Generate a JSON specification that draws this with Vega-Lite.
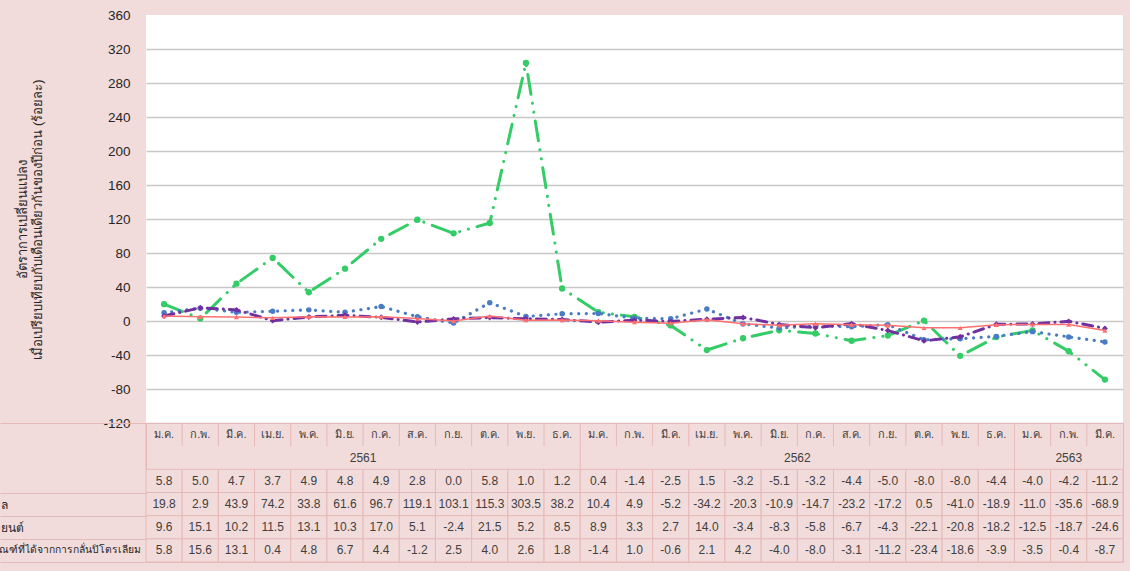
{
  "$schema": "https://vega.github.io/schema/vega-lite/v6.json",
  "background": "#f2dcdb",
  "padding": {"left": -10, "top": 8, "right": 7, "bottom": 9},
  "spacing": 0,
  "bounds": "flush",
  "config": {
    "locale": {"number": {"decimal": ".", "thousands": ",", "grouping": [3], "currency": ["", ""], "minus": "-"}},
    "font": "Liberation Sans",
    "concat": {"spacing": 0}
  },
  "datasets": {
    "d": [
      {"m": "2561-01", "mon": "ม.ค.", "yr": "2561", "s1": 5.8, "s2": 19.8, "s3": 9.6, "s4": 5.8},
      {"m": "2561-02", "mon": "ก.พ.", "yr": "2561", "s1": 5.0, "s2": 2.9, "s3": 15.1, "s4": 15.6},
      {"m": "2561-03", "mon": "มี.ค.", "yr": "2561", "s1": 4.7, "s2": 43.9, "s3": 10.2, "s4": 13.1},
      {"m": "2561-04", "mon": "เม.ย.", "yr": "2561", "s1": 3.7, "s2": 74.2, "s3": 11.5, "s4": 0.4},
      {"m": "2561-05", "mon": "พ.ค.", "yr": "2561", "s1": 4.9, "s2": 33.8, "s3": 13.1, "s4": 4.8},
      {"m": "2561-06", "mon": "มิ.ย.", "yr": "2561", "s1": 4.8, "s2": 61.6, "s3": 10.3, "s4": 6.7},
      {"m": "2561-07", "mon": "ก.ค.", "yr": "2561", "s1": 4.9, "s2": 96.7, "s3": 17.0, "s4": 4.4},
      {"m": "2561-08", "mon": "ส.ค.", "yr": "2561", "s1": 2.8, "s2": 119.1, "s3": 5.1, "s4": -1.2},
      {"m": "2561-09", "mon": "ก.ย.", "yr": "2561", "s1": 0.0, "s2": 103.1, "s3": -2.4, "s4": 2.5},
      {"m": "2561-10", "mon": "ต.ค.", "yr": "2561", "s1": 5.8, "s2": 115.3, "s3": 21.5, "s4": 4.0},
      {"m": "2561-11", "mon": "พ.ย.", "yr": "2561", "s1": 1.0, "s2": 303.5, "s3": 5.2, "s4": 2.6},
      {"m": "2561-12", "mon": "ธ.ค.", "yr": "2561", "s1": 1.2, "s2": 38.2, "s3": 8.5, "s4": 1.8},
      {"m": "2562-01", "mon": "ม.ค.", "yr": "2562", "s1": 0.4, "s2": 10.4, "s3": 8.9, "s4": -1.4},
      {"m": "2562-02", "mon": "ก.พ.", "yr": "2562", "s1": -1.4, "s2": 4.9, "s3": 3.3, "s4": 1.0},
      {"m": "2562-03", "mon": "มี.ค.", "yr": "2562", "s1": -2.5, "s2": -5.2, "s3": 2.7, "s4": -0.6},
      {"m": "2562-04", "mon": "เม.ย.", "yr": "2562", "s1": 1.5, "s2": -34.2, "s3": 14.0, "s4": 2.1},
      {"m": "2562-05", "mon": "พ.ค.", "yr": "2562", "s1": -3.2, "s2": -20.3, "s3": -3.4, "s4": 4.2},
      {"m": "2562-06", "mon": "มิ.ย.", "yr": "2562", "s1": -5.1, "s2": -10.9, "s3": -8.3, "s4": -4.0},
      {"m": "2562-07", "mon": "ก.ค.", "yr": "2562", "s1": -3.2, "s2": -14.7, "s3": -5.8, "s4": -8.0},
      {"m": "2562-08", "mon": "ส.ค.", "yr": "2562", "s1": -4.4, "s2": -23.2, "s3": -6.7, "s4": -3.1},
      {"m": "2562-09", "mon": "ก.ย.", "yr": "2562", "s1": -5.0, "s2": -17.2, "s3": -4.3, "s4": -11.2},
      {"m": "2562-10", "mon": "ต.ค.", "yr": "2562", "s1": -8.0, "s2": 0.5, "s3": -22.1, "s4": -23.4},
      {"m": "2562-11", "mon": "พ.ย.", "yr": "2562", "s1": -8.0, "s2": -41.0, "s3": -20.8, "s4": -18.6},
      {"m": "2562-12", "mon": "ธ.ค.", "yr": "2562", "s1": -4.4, "s2": -18.9, "s3": -18.2, "s4": -3.9},
      {"m": "2563-01", "mon": "ม.ค.", "yr": "2563", "s1": -4.0, "s2": -11.0, "s3": -12.5, "s4": -3.5},
      {"m": "2563-02", "mon": "ก.พ.", "yr": "2563", "s1": -4.2, "s2": -35.6, "s3": -18.7, "s4": -0.4},
      {"m": "2563-03", "mon": "มี.ค.", "yr": "2563", "s1": -11.2, "s2": -68.9, "s3": -24.6, "s4": -8.7}
    ]
  },
  "vconcat": [
    {
      "width": 977,
      "height": 408,
      "view": {"fill": "white", "stroke": null},
      "data": {"name": "d"},
      "transform": [{"fold": ["s1", "s2", "s3", "s4"], "as": ["series", "value"]}],
      "encoding": {
        "x": {"field": "m", "type": "ordinal", "scale": {"type": "point", "padding": 0.5, "domain": ["2561-01","2561-02","2561-03","2561-04","2561-05","2561-06","2561-07","2561-08","2561-09","2561-10","2561-11","2561-12","2562-01","2562-02","2562-03","2562-04","2562-05","2562-06","2562-07","2562-08","2562-09","2562-10","2562-11","2562-12","2563-01","2563-02","2563-03"]}, "axis": null},
        "y": {
          "field": "value", "type": "quantitative",
          "scale": {"domain": [-120, 360], "nice": false, "zero": false},
          "axis": {
            "values": [-120, -80, -40, 0, 40, 80, 120, 160, 200, 240, 280, 320, 360],
            "title": ["อัตราการเปลี่ยนแปลง", "เมื่อเปรียบเทียบกับเดือนเดียวกันของปีก่อน  (ร้อยละ)"],
            "titleFontSize": 13, "titleFontWeight": "normal", "titleColor": "#262626", "titlePadding": 58,
            "labelFontSize": 13.5, "labelColor": "#262626", "labelPadding": 16,
            "ticks": false, "domain": false, "grid": true,
            "gridColor": {"condition": {"test": "datum.value == 360", "value": "rgba(0,0,0,0)"}, "value": "#c8c8c8"},
            "gridWidth": 1.5
          }
        }
      },
      "layer": [
        {"transform": [{"filter": "datum.series == 's2'"}], "mark": {"type": "line", "color": "#33cc66", "strokeWidth": 3, "strokeCap": "round", "strokeDash": [20, 9, 0.1, 9, 0.1, 9]}},
        {"transform": [{"filter": "datum.series == 's2'"}], "mark": {"type": "point", "shape": "circle", "filled": true, "opacity": 1, "size": 40, "color": "#33cc66"}},
        {"transform": [{"filter": "datum.series == 's3'"}], "mark": {"type": "line", "color": "#4a7cc4", "strokeWidth": 3.2, "strokeCap": "round", "strokeDash": [0.1, 7.5]}},
        {"transform": [{"filter": "datum.series == 's3'"}], "mark": {"type": "point", "shape": "circle", "filled": true, "opacity": 1, "size": 30, "color": "#4a7cc4"}},
        {"transform": [{"filter": "datum.series == 's4'"}], "mark": {"type": "line", "color": "#7030a0", "strokeWidth": 3, "strokeCap": "round", "strokeDash": [10, 6, 0.1, 6]}},
        {"transform": [{"filter": "datum.series == 's4'"}], "mark": {"type": "point", "shape": "diamond", "filled": true, "opacity": 1, "size": 35, "color": "#7030a0"}},
        {"transform": [{"filter": "datum.series == 's1'"}], "mark": {"type": "line", "color": "#ff6f6f", "strokeWidth": 1.5}},
        {"transform": [{"filter": "datum.series == 's1'"}], "mark": {"type": "point", "shape": "triangle-up", "filled": true, "opacity": 1, "size": 25, "color": "#ff6f6f"}}
      ]
    },
    {
      "width": 977,
      "height": 139,
      "view": {"fill": "#f2dcdb", "stroke": "#e6b9b8", "strokeWidth": 1},
      "data": {"name": "d"},
      "resolve": {"axis": {"y": "independent"}},
      "encoding": {
        "x": {"field": "m", "type": "ordinal", "scale": {"type": "band", "paddingInner": 0, "paddingOuter": 0, "domain": ["2561-01","2561-02","2561-03","2561-04","2561-05","2561-06","2561-07","2561-08","2561-09","2561-10","2561-11","2561-12","2562-01","2562-02","2562-03","2562-04","2562-05","2562-06","2562-07","2562-08","2562-09","2562-10","2562-11","2562-12","2563-01","2563-02","2563-03"]}, "axis": null}
      },
      "layer": [
        {
          "transform": [{"fold": ["s1", "s2", "s3", "s4"], "as": ["series", "value"]}],
          "mark": {"type": "rect", "fill": "#f2dcdb", "stroke": "#e6b9b8", "strokeWidth": 1},
          "encoding": {
            "y": {
              "field": "series", "type": "nominal",
              "scale": {"type": "band", "domain": ["h1", "h2", "s1", "s2", "s3", "s4"], "paddingInner": 0, "paddingOuter": 0},
              "axis": {
                "orient": "left", "title": null, "domain": false, "grid": false,
                "ticks": true, "tickBand": "extent", "tickSize": 146, "tickWidth": 1,
                "tickColor": {"condition": {"test": "datum.value == 'h1' || datum.value == 'h2'", "value": "rgba(0,0,0,0)"}, "value": "#e6b9b8"},
                "labelAlign": "left", "labelPadding": 0, "labelFontSize": 12, "labelColor": "#262626",
                "labelExpr": "datum.value == 's2' ? 'ล' : datum.value == 's3' ? 'ยนต์' : ''"
              }
            }
          }
        },
        {
          "transform": [{"fold": ["s1", "s2", "s3", "s4"], "as": ["series", "value"]}],
          "mark": {"type": "text", "fontSize": 12, "color": "#404040"},
          "encoding": {
            "y": {
              "field": "series", "type": "nominal",
              "axis": {
                "orient": "left", "title": null, "domain": false, "grid": false, "ticks": false,
                "labelAlign": "right", "labelPadding": 6, "labelFontSize": 10.3, "labelColor": "#262626", "labelLimit": 400,
                "labelExpr": "datum.value == 's4' ? 'ภัณฑ์ที่ได้จากการกลั่นปิโตรเลียม' : ''"
              }
            },
            "text": {"field": "value", "type": "quantitative", "format": ".1f"}
          }
        },
        {
          "mark": {"type": "text", "fontSize": 11, "color": "#404040"},
          "encoding": {"y": {"datum": "h1", "type": "nominal", "axis": null}, "text": {"field": "mon", "type": "nominal"}}
        },
        {
          "mark": {"type": "tick", "orient": "vertical", "color": "#e6b9b8", "thickness": 1, "size": 23, "opacity": 1},
          "encoding": {"x": {"field": "m", "type": "ordinal", "bandPosition": 0}, "y": {"datum": "h1", "type": "nominal", "axis": null}}
        },
        {
          "transform": [{"filter": "datum.mon == 'ม.ค.'"}],
          "mark": {"type": "tick", "orient": "vertical", "color": "#e6b9b8", "thickness": 1, "size": 23, "opacity": 1},
          "encoding": {"x": {"field": "m", "type": "ordinal", "bandPosition": 0}, "y": {"datum": "h2", "type": "nominal", "axis": null}}
        },
        {
          "transform": [{"filter": "datum.m == '2561-07' || datum.m == '2562-07'"}],
          "mark": {"type": "text", "fontSize": 12, "color": "#404040"},
          "encoding": {"x": {"field": "m", "type": "ordinal", "bandPosition": 0}, "y": {"datum": "h2", "type": "nominal", "axis": null}, "text": {"field": "yr", "type": "nominal"}}
        },
        {
          "transform": [{"filter": "datum.m == '2563-02'"}],
          "mark": {"type": "text", "fontSize": 12, "color": "#404040"},
          "encoding": {"y": {"datum": "h2", "type": "nominal", "axis": null}, "text": {"field": "yr", "type": "nominal"}}
        }
      ]
    }
  ]
}
